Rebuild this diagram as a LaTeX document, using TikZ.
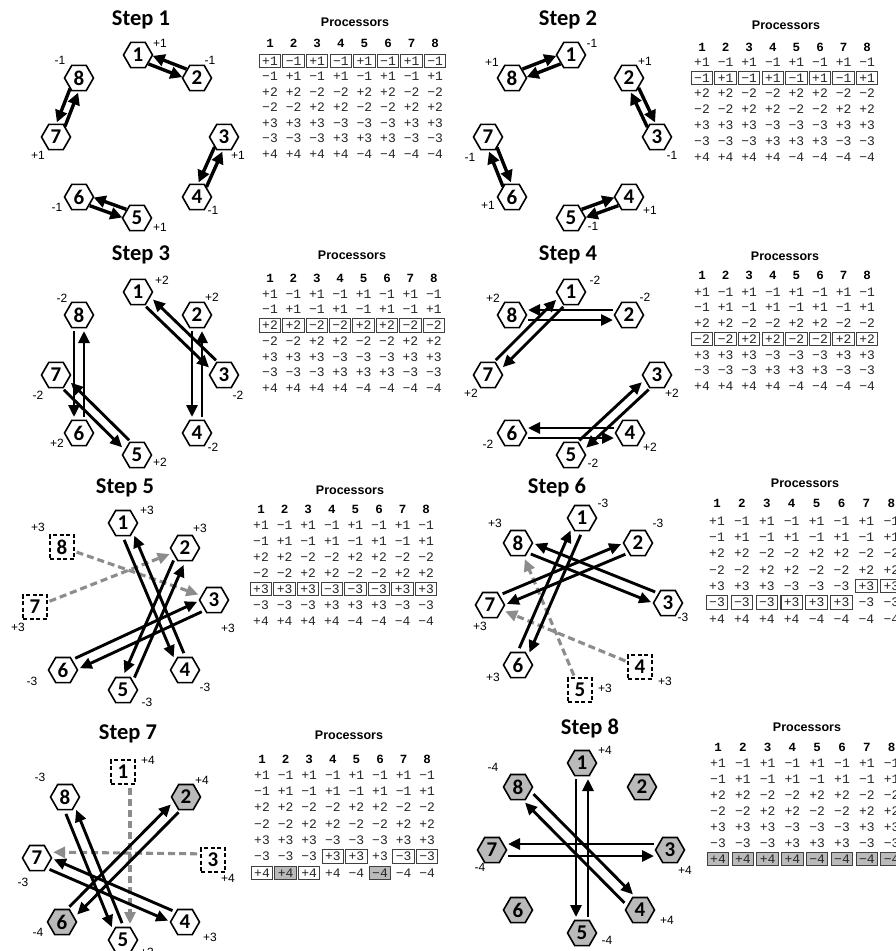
\documentclass[tikz,border=0pt]{standalone}
\usepackage{fontspec}
\setmainfont{Liberation Sans}
\newfontfamily\calib{Carlito}
\newfontfamily\monof{Liberation Mono}
\usetikzlibrary{calc,arrows.meta,shapes.geometric}
\pgfdeclarelayer{back}
\pgfdeclarelayer{bg}
\pgfsetlayers{back,bg,main}
\tikzset{
 hexn/.style={regular polygon, regular polygon sides=6, minimum size=29pt, inner sep=0pt, draw=black, line width=1.6pt, fill=white, font=\calib\bfseries\fontsize{21}{21}\selectfont},
 hexd/.style={hexn, fill=black!27},
 sqn/.style={rectangle, draw=black, line width=1.4pt, dash pattern=on 4pt off 2.5pt, fill=white, minimum width=24pt, minimum height=24pt, inner sep=0pt, font=\calib\bfseries\fontsize{21}{21}\selectfont},
 steptitle/.style={font=\calib\bfseries\fontsize{22.5}{22.5}\selectfont, inner sep=0pt, anchor=base},
 lab/.style={font=\fontsize{12}{12}\selectfont, inner sep=0pt},
 proch/.style={font=\bfseries\fontsize{12.5}{12.5}\selectfont, inner sep=0pt},
 colh/.style={font=\monof\bfseries\fontsize{12.5}{12.5}\selectfont, inner sep=0pt},
 cell/.style={font=\monof\fontsize{13}{13}\selectfont, text=black!85, inner sep=0pt, minimum width=21pt, minimum height=13pt, text height=8.5pt, text depth=0pt},
 cellbox/.style={draw=black!75, line width=1.1pt},
 arr/.style={line width=2.9pt, -{Triangle[length=12pt,width=11pt]}, shorten <=16pt, shorten >=16pt},
 sharr/.style={arr, line width=3.4pt, -{Triangle[length=12pt,width=12pt]}, shorten <=13pt, shorten >=14pt},
 garr/.style={arr, line width=3.1pt, draw=black!45, dash pattern=on 7pt off 4pt},
 gnarr/.style={garr, shorten <=2pt, shorten >=3pt},
}
\newcommand\apair[4][]{%
 \draw[arr,#1] ($(#3)!#2pt!-90:(#4)$) -- ($(#4)!#2pt!90:(#3)$);
 \draw[arr,#1] ($(#4)!#2pt!-90:(#3)$) -- ($(#3)!#2pt!90:(#4)$);}
\newcommand\ptable[8]{%
 \node[proch] (#1p) at (#4,#5) {Processors};
 \foreach \cc in {1,...,8}{\node[colh] (#1h\cc) at ({#2+(\cc-1)*#3},#6) {\cc};}
 \foreach \vv [count=\cc] in {+1,−1,+1,−1,+1,−1,+1,−1}{\node[cell] (#1r1c\cc) at ({#2+(\cc-1)*#3},{#7}) {\vv};}
 \foreach \vv [count=\cc] in {−1,+1,−1,+1,−1,+1,−1,+1}{\node[cell] (#1r2c\cc) at ({#2+(\cc-1)*#3},{#7+#8}) {\vv};}
 \foreach \vv [count=\cc] in {+2,+2,−2,−2,+2,+2,−2,−2}{\node[cell] (#1r3c\cc) at ({#2+(\cc-1)*#3},{#7+2*#8}) {\vv};}
 \foreach \vv [count=\cc] in {−2,−2,+2,+2,−2,−2,+2,+2}{\node[cell] (#1r4c\cc) at ({#2+(\cc-1)*#3},{#7+3*#8}) {\vv};}
 \foreach \vv [count=\cc] in {+3,+3,+3,−3,−3,−3,+3,+3}{\node[cell] (#1r5c\cc) at ({#2+(\cc-1)*#3},{#7+4*#8}) {\vv};}
 \foreach \vv [count=\cc] in {−3,−3,−3,+3,+3,+3,−3,−3}{\node[cell] (#1r6c\cc) at ({#2+(\cc-1)*#3},{#7+5*#8}) {\vv};}
 \foreach \vv [count=\cc] in {+4,+4,+4,+4,−4,−4,−4,−4}{\node[cell] (#1r7c\cc) at ({#2+(\cc-1)*#3},{#7+6*#8}) {\vv};}
}
\newcommand\bx[1]{\draw[cellbox] (#1.south west) rectangle (#1.north east);}
\newcommand\gbx[1]{\begin{pgfonlayer}{bg}\fill[black!27] (#1.south west) rectangle (#1.north east);\end{pgfonlayer}\bx{#1}}
\begin{document}
\begin{tikzpicture}[x=1pt,y=-1pt]
\useasboundingbox (0,0) rectangle (896,951);
\begin{pgfonlayer}{back}\fill[white] (0,0) rectangle (896,951);\end{pgfonlayer}

% ---------- Step 1
\node[steptitle] (s1t) at (141,25) {Step 1};
\foreach \n/\x/\y/\st in {1/138/55/hexn,2/197/78/hexn,3/224/137/hexn,4/197/197/hexn,5/137/218/hexn,6/79/197/hexn,7/56/137/hexn,8/79/78/hexn}
 \node[\st] (s1n\n) at (\x,\y) {\n};
\foreach \n/\dx/\dy/\v in {1/22/-12/+1,2/13/-18/-1,3/14/18/+1,4/16/13/-1,5/23/9/+1,6/-22/10/-1,7/-18/18/+1,8/-19/-18/-1}
 \node[lab] (s1l\n) at ($(s1n\n)+(\dx,\dy)$) {\v};
\begin{pgfonlayer}{bg}
\apair[sharr]{4.5}{s1n1}{s1n2}\apair[sharr]{4.5}{s1n3}{s1n4}
\apair[sharr]{4.5}{s1n5}{s1n6}\apair[sharr]{4.5}{s1n7}{s1n8}
\end{pgfonlayer}
\ptable{t1}{270}{23.6}{355}{22}{43}{61}{15.5}
\foreach \cc in {1,...,8}{\bx{t1r1c\cc}}

% ---------- Step 2
\node[steptitle] (s2t) at (568,25) {Step 2};
\foreach \n/\x/\y/\st in {1/571/55/hexn,2/629/78/hexn,3/657/137/hexn,4/629/197/hexn,5/571/218/hexn,6/512/197/hexn,7/488/137/hexn,8/512/78/hexn}
 \node[\st] (s2n\n) at (\x,\y) {\n};
\foreach \n/\dx/\dy/\v in {1/21/-12/-1,2/16/-17/+1,3/15/18/-1,4/21/13/+1,5/22/8/-1,6/-24/8/+1,7/-18/20/-1,8/-20/-16/+1}
 \node[lab] (s2l\n) at ($(s2n\n)+(\dx,\dy)$) {\v};
\begin{pgfonlayer}{bg}
\apair[sharr]{-4.5}{s2n1}{s2n8}\apair[sharr]{-4.5}{s2n2}{s2n3}
\apair[sharr]{-4.5}{s2n4}{s2n5}\apair[sharr]{-4.5}{s2n6}{s2n7}
\end{pgfonlayer}
\ptable{t2}{702}{23.6}{786}{25}{47}{62}{15.8}
\foreach \cc in {1,...,8}{\bx{t2r2c\cc}}

% ---------- Step 3
\node[steptitle] (s3t) at (141,260) {Step 3};
\foreach \n/\x/\y/\st in {1/138/292/hexn,2/197/315/hexn,3/224/375/hexn,4/197/433/hexn,5/137/455/hexn,6/79/433/hexn,7/56/375/hexn,8/79/315/hexn}
 \node[\st] (s3n\n) at (\x,\y) {\n};
\foreach \n/\dx/\dy/\v in {1/24/-12/+2,2/15/-18/+2,3/14/20/-2,4/16/14/-2,5/23/7/+2,6/-22/10/+2,7/-18/20/-2,8/-17/-17/-2}
 \node[lab] (s3l\n) at ($(s3n\n)+(\dx,\dy)$) {\v};
\begin{pgfonlayer}{bg}
\apair{5}{s3n1}{s3n3}\apair{5}{s3n2}{s3n4}
\apair{5}{s3n6}{s3n8}\apair{5}{s3n5}{s3n7}
\end{pgfonlayer}
\ptable{t3}{270}{23.4}{352}{255}{278}{294}{15.7}
\foreach \cc in {1,...,8}{\bx{t3r3c\cc}}

% ---------- Step 4
\node[steptitle] (s4t) at (568,260) {Step 4};
\foreach \n/\x/\y/\st in {1/571/292/hexn,2/629/315/hexn,3/657/375/hexn,4/630/433/hexn,5/571/455/hexn,6/512/433/hexn,7/488/375/hexn,8/512/315/hexn}
 \node[\st] (s4n\n) at (\x,\y) {\n};
\foreach \n/\dx/\dy/\v in {1/24/-12/-2,2/16/-18/-2,3/15/18/+2,4/20/14/+2,5/22/8/-2,6/-24/11/-2,7/-17/18/+2,8/-19/-17/+2}
 \node[lab] (s4l\n) at ($(s4n\n)+(\dx,\dy)$) {\v};
\begin{pgfonlayer}{bg}
\apair{5}{s4n2}{s4n8}\apair{-5}{s4n1}{s4n7}
\apair{-5}{s4n3}{s4n5}\apair{5}{s4n4}{s4n6}
\end{pgfonlayer}
\ptable{t4}{702}{23.6}{785}{256}{275}{292}{15.7}
\foreach \cc in {1,...,8}{\bx{t4r4c\cc}}

% ---------- Step 5
\node[steptitle] (s5t) at (125,493) {Step 5};
\foreach \n/\x/\y/\st in {1/123/523/hexn,2/185/548/hexn,3/214/600/hexn,4/185/670/hexn,5/123/690/hexn,6/63/670/hexn,7/35/607/sqn,8/62/547/sqn}
 \node[\st] (s5n\n) at (\x,\y) {\n};
\foreach \n/\dx/\dy/\v in {1/24/-13/+3,2/15/-20/+3,3/14/28/+3,4/20/17/-3,5/24/12/-3,6/-31/11/-3,7/-17/20/+3,8/-24/-20/+3}
 \node[lab] (s5l\n) at ($(s5n\n)+(\dx,\dy)$) {\v};
\begin{pgfonlayer}{bg}
\draw[gnarr] (s5n8) -- (s5n3);
\draw[gnarr] (s5n7) -- (s5n2);
\apair{5.5}{s5n1}{s5n4}\apair{5.5}{s5n2}{s5n5}\apair{-5.5}{s5n3}{s5n6}
\end{pgfonlayer}
\ptable{t5}{261}{23.6}{350}{490}{509}{525}{16}
\foreach \cc in {1,...,8}{\bx{t5r5c\cc}}

% ---------- Step 6
\node[steptitle] (s6t) at (557,493) {Step 6};
\foreach \n/\x/\y/\st in {1/582/518/hexn,2/638/543/hexn,3/668/603/hexn,4/640/667/sqn,5/580/690/sqn,6/518/665/hexn,7/490/605/hexn,8/518/543/hexn}
 \node[\st] (s6n\n) at (\x,\y) {\n};
\foreach \n/\dx/\dy/\v in {1/21/-15/-3,2/20/-20/-3,3/15/14/-3,4/25/14/+3,5/25/-2/+3,6/-25/12/+3,7/-10/21/+3,8/-23/-20/+3}
 \node[lab] (s6l\n) at ($(s6n\n)+(\dx,\dy)$) {\v};
\begin{pgfonlayer}{bg}
\draw[gnarr] (s6n4) -- (s6n7);
\draw[gnarr] (s6n5) -- (s6n8);
\apair{-5.5}{s6n1}{s6n6}\apair{-5.5}{s6n2}{s6n7}\apair{5.5}{s6n3}{s6n8}
\end{pgfonlayer}
\ptable{t6}{717}{24.9}{805}{483}{503}{521}{16.3}
\bx{t6r5c7}\bx{t6r5c8}
\foreach \cc in {1,...,6}{\bx{t6r6c\cc}}

% ---------- Step 7
\node[steptitle] (s7t) at (128,739) {Step 7};
\foreach \n/\x/\y/\st in {1/123/772/sqn,2/186/797/hexd,3/213/860/sqn,4/185/922/hexn,5/123/940/hexn,6/62/922/hexd,7/37/858/hexn,8/65/797/hexn}
 \node[\st] (s7n\n) at (\x,\y) {\n};
\foreach \n/\dx/\dy/\v in {1/25/-12/+4,2/16/-17/+4,3/15/18/+4,4/25/15/+3,5/24/12/+3,6/-24/10/-4,7/-14/24/-3,8/-25/-20/-3}
 \node[lab] (s7l\n) at ($(s7n\n)+(\dx,\dy)$) {\v};
\begin{pgfonlayer}{bg}
\draw[garr] ($(s7n1)!7pt!90:(s7n5)$) -- ($(s7n5)!7pt!-90:(s7n1)$);
\draw[garr] ($(s7n3)!6pt!-90:(s7n7)$) -- ($(s7n7)!6pt!90:(s7n3)$);
\apair{5.5}{s7n8}{s7n5}\apair{5.5}{s7n7}{s7n4}\apair{-5.5}{s7n2}{s7n6}
\end{pgfonlayer}
\ptable{t7}{262}{23.6}{349}{735}{759}{775}{16.3}
\bx{t7r6c4}\bx{t7r6c5}\bx{t7r6c7}\bx{t7r6c8}
\bx{t7r7c1}\gbx{t7r7c2}\bx{t7r7c3}\gbx{t7r7c6}

% ---------- Step 8
\node[steptitle] (s8t) at (590,734) {Step 8};
\foreach \n/\x/\y in {1/582/763,2/642/787,3/670/850,4/640/910,5/582/933,6/518/910,7/492/850,8/518/787}
 \node[hexd] (s8n\n) at (\x,\y) {\n};
\foreach \n/\dx/\dy/\v in {1/23/-13/+4,3/15/20/+4,4/27/10/+4,5/25/7/-4,7/-12/17/-4,8/-25/-20/-4}
 \node[lab] (s8l\n) at ($(s8n\n)+(\dx,\dy)$) {\v};
\begin{pgfonlayer}{bg}
\apair{6}{s8n1}{s8n5}\apair{6}{s8n3}{s8n7}\apair{-6}{s8n4}{s8n8}
\end{pgfonlayer}
\ptable{t8}{718}{24.8}{807}{727}{747}{763}{16}
\foreach \cc in {1,...,8}{\gbx{t8r7c\cc}}
\end{tikzpicture}
\end{document}
